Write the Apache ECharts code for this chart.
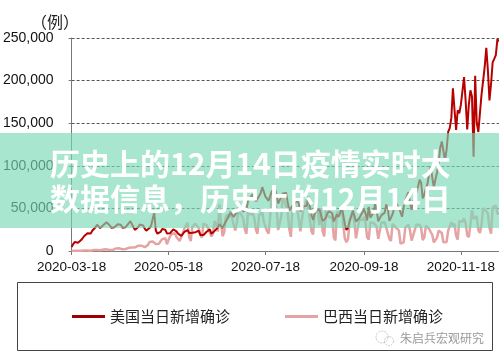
<!DOCTYPE html>
<html>
<head>
<meta charset="utf-8">
<script src="https://cdn.jsdelivr.net/npm/echarts@6/dist/echarts.min.js"></script>
<style>
html,body{margin:0;padding:0;background:#fff;}
#c{width:499px;height:360px;}
</style>
</head>
<body>
<div id="c"></div>
<script>
// ---- data ----
const startDate = '2020-03-18';
const dayCount = 270; // 2020-03-18 .. 2020-12-12
const labelDates = ['2020-03-18', '2020-05-18', '2020-07-18', '2020-09-18', '2020-11-18'];
const yTicks = [0, 50000, 100000, 150000, 200000, 250000];
const seriesNames = ['美国当日新增确诊', '巴西当日新增确诊'];
const titleLines = ['历史上的12月14日疫情实时大', '数据信息，历史上的12月14日'];
const unitLabel = '（例）';
const watermark = '朱启兵宏观研究';

const usDaily = [
  // Mar 18-31
  4800, 8200, 10600, 11900, 9600, 11400, 12800, 14200, 17600, 19300, 20800, 18600, 20400, 23800,
  // Apr
  25600, 27900, 30800, 32600, 26800, 28400, 30600, 31900, 33700, 34200, 30100, 27400, 26100, 27800, 29600,
  31400, 33500, 30900, 27200, 26500, 27900, 29800, 32700, 35100, 33200, 27600, 24800, 25900, 28300, 31200,
  // May
  33400, 30100, 26200, 23800, 24700, 26900, 29500, 31800, 45200, 24100, 20300, 21600, 22400, 25800, 26500, 24900,
  20600, 21200, 20900, 22100, 25400, 24200, 23100, 20400, 18900, 17800, 19800, 22500, 23900, 24600, 21200,
  // Jun
  20500, 21300, 20400, 22100, 24300, 23800, 18900, 17600, 18800, 20900, 22600, 24100, 25400, 20200, 19300,
  23600, 25900, 27400, 31600, 32800, 27100, 29400, 34300, 37600, 39800, 44900, 43200, 40100, 39400, 45600,
  // Jul
  50300, 54700, 56900, 46200, 43900, 48100, 58600, 61200, 63100, 66400, 61800, 58200, 57900, 64600, 67800, 74900,
  76200, 63900, 61500, 58900, 64700, 70100, 71300, 72600, 66100, 55800, 56400, 63900, 67100, 68200, 68600,
  // Aug
  57200, 47500, 46900, 53200, 54600, 56800, 60400, 55100, 46700, 48900, 52400, 54100, 52700, 64200, 51800, 42100,
  36400, 44100, 47200, 45700, 48600, 46300, 35200, 34800, 38700, 44200, 46600, 48100, 44300, 34600, 35500,
  // Sep
  42800, 40100, 44600, 51600, 42200, 31400, 24800, 27300, 35100, 36400, 47400, 41300, 34600, 33800, 38400,
  39500, 45100, 49200, 43900, 35900, 51800, 39200, 38100, 44700, 55300, 47600, 34900, 35600, 42100, 40900,
  // Oct
  44800, 54600, 49700, 35400, 38800, 43200, 50100, 56800, 57600, 50800, 45700, 40200, 51600, 58700, 64800, 69200,
  56500, 48200, 58400, 61700, 62400, 75100, 83700, 79800, 61800, 66300, 73600, 79100, 90200, 99300, 86300,
  // Nov
  74500, 84200, 92100, 103200, 121300, 128600, 126700, 106500, 118700, 139800, 144300, 156200, 191000, 165800, 142100,
  165200, 161500, 171700, 187800, 204100, 176300, 142600, 171500, 188600, 181200, 110600, 205600, 150300, 139700, 161800,
  // Dec 1-12
  183600, 199800, 216300, 238500, 212400, 176800, 196300, 221300, 225400, 229800, 248600, 246000
];

const brDaily = [
  // Mar 18-31
  120, 180, 290, 330, 230, 380, 350, 230, 480, 500, 500, 350, 320, 1140,
  // Apr
  1120, 1070, 1150, 1220, 850, 920, 1660, 2210, 1930, 1780, 1090, 1220, 1240, 1830, 3060,
  3260, 3260, 2100, 1930, 2090, 2340, 2680, 3740, 4110, 4100, 3380, 4300, 5390, 6280, 7220,
  // May
  6200, 4970, 4590, 6630, 6940, 10500, 9890, 11100, 11200, 8200, 6760, 8620, 11380, 13940, 15300, 14900,
  7940, 13140, 17400, 19950, 18500, 20800, 16500, 15800, 11700, 16300, 20600, 26400, 26900, 33200, 16400,
  // Jun
  11600, 28900, 28600, 31900, 30800, 27100, 18900, 15600, 32100, 32900, 30400, 25900, 21700, 17100, 20600,
  34900, 32200, 22800, 54800, 34700, 17500, 21400, 39400, 42700, 39500, 46900, 38700, 30500, 24100, 33800,
  // Jul
  46700, 48100, 42200, 37900, 26100, 20200, 45300, 44600, 42600, 45000, 39000, 24800, 20300, 41900, 39900, 45400,
  34200, 28500, 23500, 20300, 41000, 67900, 59900, 55900, 51100, 24600, 23300, 40800, 69100, 57800, 52400,
  // Aug
  45400, 25800, 16600, 51600, 57200, 53100, 50200, 49900, 23000, 22000, 52200, 55200, 60100, 50600, 49300, 23100,
  19400, 47800, 49300, 45300, 30400, 50000, 23400, 17000, 47100, 42100, 44200, 38500, 41300, 16200, 12400,
  // Sep
  45900, 46900, 43800, 50200, 30200, 14300, 10300, 14200, 35800, 40600, 43700, 33500, 14800, 15200, 36600,
  36800, 36300, 39800, 33000, 16400, 13400, 33500, 32800, 33300, 31900, 28400, 14300, 13200, 33400, 32100,
  // Oct
  33800, 27800, 26300, 14300, 11800, 31900, 31500, 27800, 27400, 24100, 8800, 8400, 10200, 27200, 28500, 30900,
  24100, 12300, 13900, 24800, 30900, 29000, 30900, 26900, 12900, 15700, 29800, 28600, 26100, 22300, 18900,
  // Nov
  10100, 8500, 15700, 23900, 24200, 21200, 10300, 10900, 10600, 23900, 23000, 33900, 29100, 32000, 17800,
  13400, 35300, 35200, 34200, 38300, 32600, 18600, 16200, 31100, 47900, 37600, 37600, 41000, 24500, 21100,
  // Dec 1-12
  31100, 50400, 50900, 46900, 43500, 27100, 20400, 51100, 53400, 53300, 43900, 43600
];

// ---- categories (daily dates) ----
const dates = [];
{
  const t0 = Date.parse(startDate + 'T00:00:00Z');
  for (let i = 0; i < dayCount; i++) {
    dates.push(new Date(t0 + i * 86400000).toISOString().slice(0, 10));
  }
}

const chart = echarts.init(document.getElementById('c'), null, {renderer: 'canvas'});
const showDate = (idx, val) => labelDates.indexOf(val) >= 0;
const latin = '"Liberation Sans", Arial, sans-serif';
const cjk = '"Noto Sans CJK SC", sans-serif';

chart.setOption({
  animation: false,
  backgroundColor: '#ffffff',
  grid: {left: 70, right: 0, top: 38, bottom: 109, containLabel: false},
  xAxis: {
    type: 'category',
    data: dates,
    boundaryGap: false,
    axisLine: {show: true, lineStyle: {color: '#777', width: 1}},
    axisTick: {show: true, interval: showDate, length: 4, lineStyle: {color: '#777'}},
    axisLabel: {interval: showDate, margin: 9, fontSize: 13.5, fontFamily: latin, color: '#111'},
    splitLine: {show: false}
  },
  yAxis: {
    type: 'value',
    min: yTicks[0],
    max: yTicks[yTicks.length - 1],
    interval: yTicks[1] - yTicks[0],
    axisLine: {show: true, lineStyle: {color: '#777', width: 1}},
    axisTick: {show: true, length: 3, lineStyle: {color: '#777'}},
    axisLabel: {
      margin: 18, fontSize: 14, fontFamily: latin, color: '#111',
      formatter: v => v.toLocaleString('en-US')
    },
    splitLine: {show: true, lineStyle: {color: '#555', type: [3, 2], width: 1}}
  },
  legend: [
    {data: [seriesNames[0]], left: 72, top: 309, padding: 0, icon: 'rect', itemWidth: 33, itemHeight: 3,
     textStyle: {fontSize: 15, fontFamily: cjk, color: '#222'}},
    {data: [seriesNames[1]], left: 285, top: 309, padding: 0, icon: 'rect', itemWidth: 33, itemHeight: 3,
     textStyle: {fontSize: 15, fontFamily: cjk, color: '#222'}}
  ],
  series: [
    {name: seriesNames[1], type: 'line', data: brDaily, symbol: 'none', smooth: false,
     lineStyle: {color: '#e6a3a3', width: 2.5}, itemStyle: {color: '#e6a3a3'}},
    {name: seriesNames[0], type: 'line', data: usDaily, symbol: 'none', smooth: false,
     lineStyle: {color: '#b80000', width: 2}, itemStyle: {color: '#a00000'}}
  ],
  graphic: [
    {type: 'text', left: 31, top: 14, style: {text: unitLabel, fill: '#222', font: '16px ' + cjk}},
    {type: 'rect', shape: {x: 17.5, y: 282.5, width: 475, height: 68}, style: {fill: 'none', stroke: '#444', lineWidth: 1}, z: 50},
    {type: 'circle', shape: {cx: 382, cy: 337, r: 6}, style: {fill: 'none', stroke: '#c8c8c8', lineWidth: 1, lineDash: [2, 1]}, z: 50},
    {type: 'circle', shape: {cx: 389, cy: 341, r: 4.5}, style: {fill: 'none', stroke: '#c8c8c8', lineWidth: 1, lineDash: [2, 1]}, z: 50},
    {type: 'text', x: 400, y: 338, style: {text: watermark, fill: '#999', font: '12px ' + cjk, verticalAlign: 'middle', textVerticalAlign: 'middle'}, z: 50},
    {type: 'rect', shape: {x: 0, y: 133, width: 499, height: 95}, style: {fill: 'rgba(122,217,183,0.65)'}, z: 100},
    {type: 'text', x: 50, y: 164, style: {text: titleLines[0], fill: '#fff', font: 'bold 30px ' + cjk, verticalAlign: 'middle', textVerticalAlign: 'middle'}, z: 101},
    {type: 'text', x: 50, y: 199, style: {text: titleLines[1], fill: '#fff', font: 'bold 30px ' + cjk, verticalAlign: 'middle', textVerticalAlign: 'middle'}, z: 101}
  ]
});
</script>
</body>
</html>
